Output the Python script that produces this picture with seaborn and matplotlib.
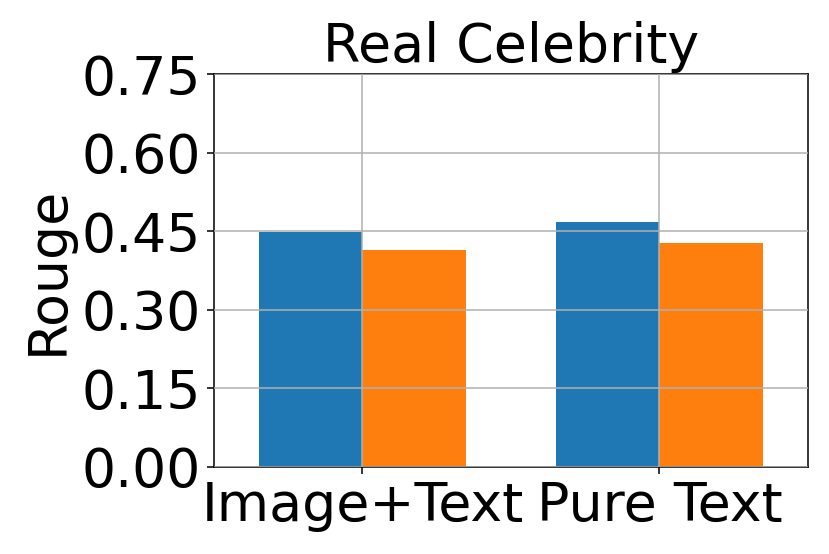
import pandas as pd
import seaborn as sns
import matplotlib
matplotlib.use("Agg")
import matplotlib.pyplot as plt

# values
categories = ["Image+Text", "Pure Text"]
series_names = ["Series 1", "Series 2"]
series_1 = [0.449, 0.468]
series_2 = [0.414, 0.427]
yticks = [0.00, 0.15, 0.30, 0.45, 0.60, 0.75]

df = pd.DataFrame({
    "Category": categories * 2,
    "Group": [series_names[0]] * len(categories) + [series_names[1]] * len(categories),
    "Rouge": series_1 + series_2,
})

plt.rcParams["font.family"] = ["DejaVu Sans"]

fig = plt.figure(figsize=(6, 4.005), dpi=138.33)
ax = fig.add_axes([0.2578, 0.1576, 0.7157, 0.7088])

sns.barplot(data=df, x="Category", y="Rouge", hue="Group",
            palette=["#1f77b4", "#ff7f0e"], width=0.7, saturation=1,
            legend=False, ax=ax)

ax.set_ylim(0, 0.75)
ax.set_yticks(yticks)
ax.set_yticklabels([f"{t:.2f}" for t in yticks])
ax.set_xlabel("")
ax.set_ylabel("Rouge", fontsize=28)
ax.set_title("Real Celebrity", fontsize=28)
ax.tick_params(axis="both", labelsize=28)
ax.grid(True, color="#b0b0b0", linewidth=0.8)
ax.set_axisbelow(False)

fig.savefig("out.png", dpi=138.33)
